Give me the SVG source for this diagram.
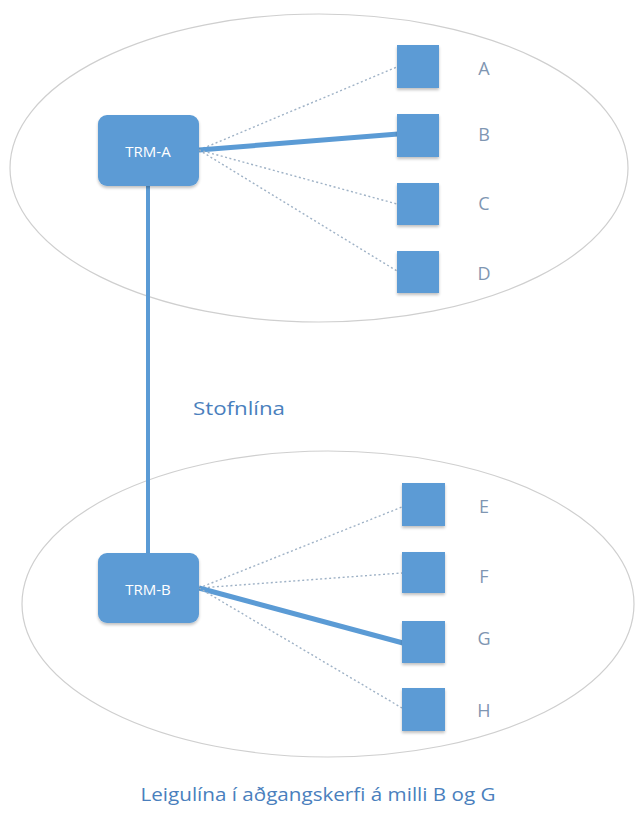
<svg xmlns="http://www.w3.org/2000/svg" width="635" height="816" viewBox="0 0 635 816">
  <defs>
    <filter id="sh" x="-20%" y="-20%" width="140%" height="150%">
      <feGaussianBlur in="SourceAlpha" stdDeviation="1.5"/>
      <feOffset dx="0" dy="2" result="b"/>
      <feComponentTransfer><feFuncA type="linear" slope="0.25"/></feComponentTransfer>
      <feMerge><feMergeNode/><feMergeNode in="SourceGraphic"/></feMerge>
    </filter>
  </defs>
  <style>
    .zone{fill:none;stroke:#cfcfcf;stroke-width:1.2}
    .trm{fill:#5b9bd5;filter:url(#sh)}
    .sq{fill:#5b9bd5;filter:url(#sh)}
    .trmt{font-family:"Open Sans","Liberation Sans",sans-serif;font-size:15px;fill:#ffffff;text-anchor:middle;dominant-baseline:central}
    .lbl{font-family:"Open Sans","Liberation Sans",sans-serif;font-size:18px;fill:#7f96b2;text-anchor:middle;dominant-baseline:central}
    .cap{font-family:"Open Sans","Liberation Sans",sans-serif;fill:#4a7fbd;text-anchor:middle}
    .thick{stroke:#5b9bd5;stroke-width:5;fill:none}
    .trunk{stroke:#5b9bd5;stroke-width:4;fill:none}
    .dot{stroke:#9fb2c6;stroke-width:1.4;stroke-dasharray:2 2.5;fill:none}
  </style>
  <ellipse class="zone" cx="319" cy="168" rx="309" ry="154"/>
  <ellipse class="zone" cx="328" cy="604" rx="306" ry="153"/>
  <g id="connectors">
    <line class="trunk" x1="148" y1="186" x2="148" y2="555"/>
    <line class="dot" x1="199" y1="150" x2="397" y2="67"/>
    <line class="thick" x1="199" y1="150" x2="398" y2="134"/>
    <line class="dot" x1="199" y1="150" x2="397" y2="204"/>
    <line class="dot" x1="199" y1="150" x2="397" y2="271"/>
    <line class="dot" x1="199" y1="588" x2="402" y2="507"/>
    <line class="dot" x1="199" y1="588" x2="402" y2="573"/>
    <line class="thick" x1="199" y1="588" x2="403" y2="643"/>
    <line class="dot" x1="199" y1="588" x2="402" y2="708"/>
  </g>
  <g id="TRM-A"><rect class="trm" x="98" y="115" width="101" height="71" rx="9"/><text class="trmt" x="148" y="151">TRM-A</text></g>
  <g id="TRM-B"><rect class="trm" x="98" y="553" width="101" height="70" rx="9"/><text class="trmt" x="148" y="589">TRM-B</text></g>
  <g id="A"><rect class="sq" x="397" y="45" width="42" height="43"/><text class="lbl" x="484" y="68">A</text></g>
  <g id="B"><rect class="sq" x="397" y="114" width="42" height="43"/><text class="lbl" x="484" y="134">B</text></g>
  <g id="C"><rect class="sq" x="397" y="183" width="42" height="42"/><text class="lbl" x="484" y="203">C</text></g>
  <g id="D"><rect class="sq" x="397" y="251" width="42" height="42"/><text class="lbl" x="484" y="273">D</text></g>
  <g id="E"><rect class="sq" x="402" y="483" width="43" height="43"/><text class="lbl" x="484" y="506">E</text></g>
  <g id="F"><rect class="sq" x="402" y="552" width="43" height="41"/><text class="lbl" x="484" y="576">F</text></g>
  <g id="G"><rect class="sq" x="402" y="621" width="43" height="42"/><text class="lbl" x="484" y="638">G</text></g>
  <g id="H"><rect class="sq" x="402" y="688" width="43" height="43"/><text class="lbl" x="484" y="710">H</text></g>
  <text class="cap" x="239" y="415" font-size="19" textLength="92" lengthAdjust="spacingAndGlyphs">Stofnlína</text>
  <text class="cap" x="318" y="801" font-size="18" textLength="355" lengthAdjust="spacingAndGlyphs">Leigulína í aðgangskerfi á milli B og G</text>
</svg>
